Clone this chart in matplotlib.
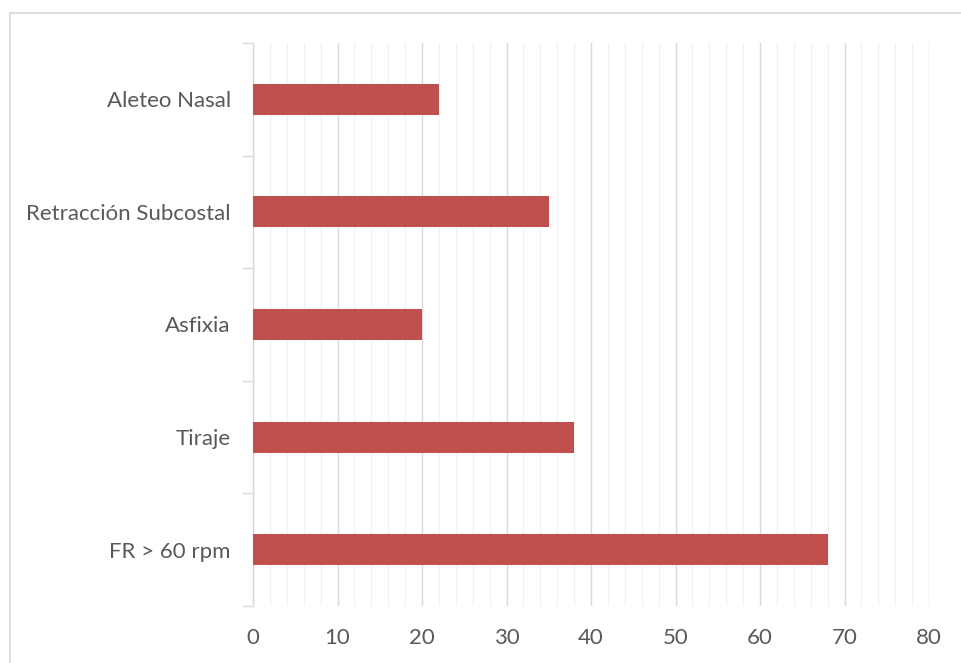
import matplotlib.pyplot as plt
from matplotlib.lines import Line2D
from matplotlib.ticker import MultipleLocator

# datos: signos de dificultad respiratoria (de abajo hacia arriba)
categorias = ['FR > 60 rpm', 'Tiraje', 'Asfixia', 'Retracción Subcostal', 'Aleteo Nasal']
valores = [68, 38, 20, 35, 22]
ticks_x = [0, 10, 20, 30, 40, 50, 60, 70, 80]

plt.rcParams['font.family'] = ['Lato', 'DejaVu Sans']

fig = plt.figure(figsize=(9.61, 6.63), dpi=100)
ax = fig.add_axes([253/961, 1-606/663, (929-253)/961, (606-43)/663])

pos = list(range(len(categorias)))
ax.barh(pos, valores, height=0.275, color='#C0504D', zorder=3)

ax.set_xlim(0, 80)
ax.set_ylim(-0.5, len(categorias)-0.5)
ax.set_xticks(ticks_x)
ax.xaxis.set_minor_locator(MultipleLocator(2))
ax.grid(axis='x', which='major', color='#D9D9D9', linewidth=1.0, zorder=0)
ax.grid(axis='x', which='minor', color='#F2F2F2', linewidth=1.0, zorder=0)

ax.set_yticks(pos)
ax.set_yticklabels(categorias)
ax.set_yticks([i - 0.5 for i in range(len(categorias)+1)], minor=True)

for s in ['top', 'right', 'bottom']:
    ax.spines[s].set_visible(False)
ax.spines['left'].set_color('#D9D9D9')
ax.spines['left'].set_linewidth(1.0)

ax.tick_params(axis='y', which='major', length=0, pad=16, labelsize=16, labelcolor='#595959')
ax.tick_params(axis='y', which='minor', length=8, color='#D9D9D9', width=1.0)
ax.tick_params(axis='x', which='both', length=0, pad=16, labelsize=16, labelcolor='#595959')

# borde del grafico
fig.add_artist(Line2D([10/961, 1.0], [1-13/663, 1-13/663], color='#D9D9D9', linewidth=1.2))
fig.add_artist(Line2D([10/961, 10/961], [0.0, 1-13/663], color='#D9D9D9', linewidth=1.2))

fig.savefig('out.png', dpi=100)
